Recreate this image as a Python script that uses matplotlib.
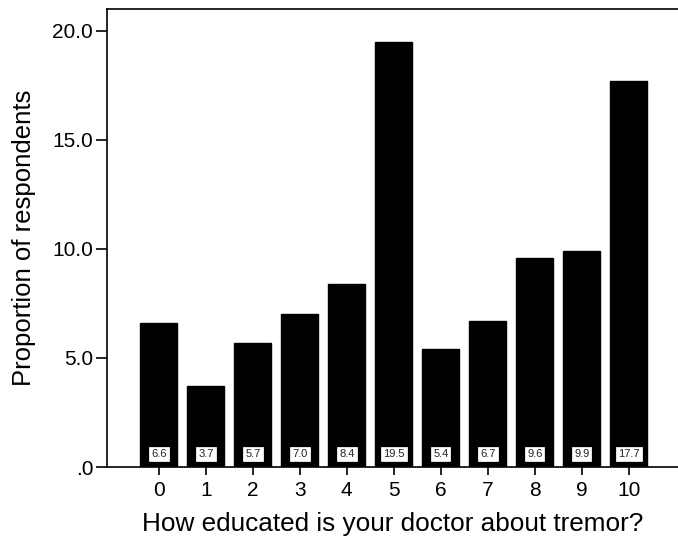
import matplotlib.pyplot as plt

# SPSS-style bar chart: ratings 0-10
categories = ["0", "1", "2", "3", "4", "5", "6", "7", "8", "9", "10"]
values = [6.6, 3.7, 5.7, 7.0, 8.4, 19.5, 5.4, 6.7, 9.6, 9.9, 17.7]
ytick_vals = [0, 5, 10, 15, 20]
ytick_labels = [".0", "5.0", "10.0", "15.0", "20.0"]

plt.rcParams["font.family"] = ["Liberation Sans", "DejaVu Sans"]

fig = plt.figure(figsize=(6.78, 5.44), dpi=100)
ax = fig.add_axes([0.158, 0.1415, 0.842, 0.842])

x = list(range(len(categories)))
ax.bar(x, values, width=0.78, color="black", edgecolor="black")

for xi, v in zip(x, values):
    ax.text(xi, 0.6, f"{v:.1f}", ha="center", va="center", fontsize=8,
            color="#222222",
            bbox=dict(boxstyle="square,pad=0.28", facecolor="white",
                      edgecolor="black", linewidth=0.9))

ax.set_xlim(-1.1, 11.05)
ax.set_ylim(0, 21.0)
ax.set_xticks(x)
ax.set_xticklabels(categories, fontsize=15)
ax.set_yticks(ytick_vals)
ax.set_yticklabels(ytick_labels, fontsize=15)
ax.tick_params(axis="y", direction="out", length=8, width=1.2, pad=2)
ax.tick_params(axis="x", direction="out", length=6, width=1.2, pad=4)

ax.spines["right"].set_visible(False)
for s in ["left", "top", "bottom"]:
    ax.spines[s].set_linewidth(1.2)

ax.set_xlabel("How educated is your doctor about tremor?", fontsize=18.8, labelpad=9)
ax.set_ylabel("Proportion of respondents", fontsize=18.5, labelpad=12)

fig.savefig("out.png", dpi=100)
